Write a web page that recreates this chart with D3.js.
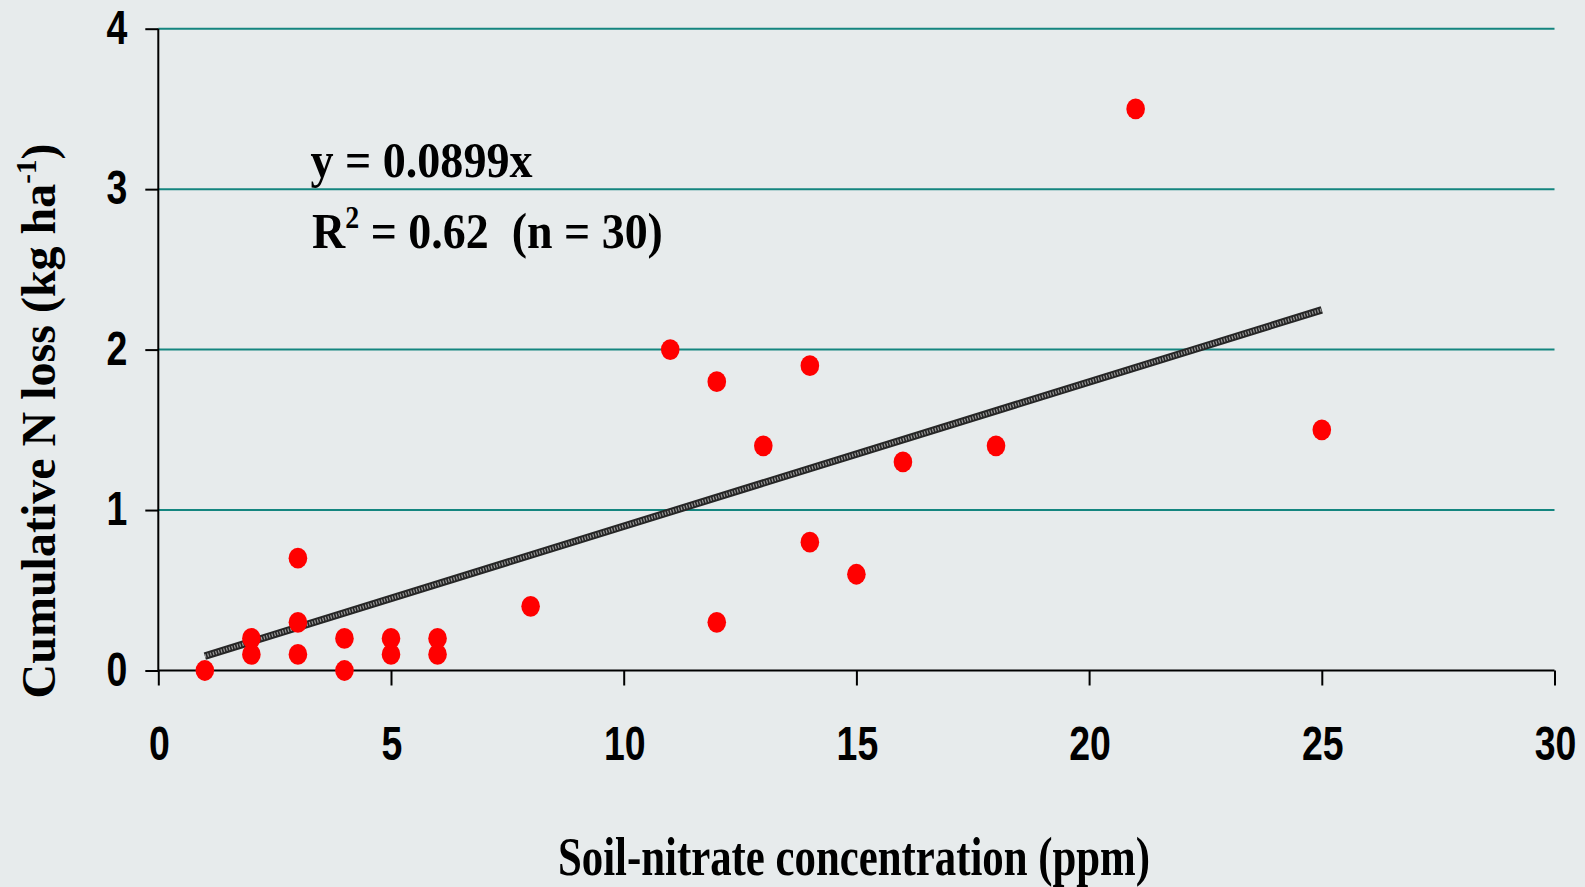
<!DOCTYPE html>
<html>
<head>
<meta charset="utf-8">
<script src="https://cdn.jsdelivr.net/npm/d3@7"></script>
<style>
  html, body { margin: 0; padding: 0; background: #e7ebec; }
  svg { display: block; }
</style>
</head>
<body>
<svg id="chart" width="1585" height="887"></svg>
<script>
// ---- data ----
const soilNitrate = [1, 2, 2, 3, 3, 3, 4, 4, 5, 5, 6, 6, 8, 11, 12, 12, 13, 14, 14, 15, 16, 18, 21, 25];
const nLoss       = [0, 0.2, 0.1, 0.7, 0.3, 0.1, 0.2, 0, 0.2, 0.1, 0.2, 0.1, 0.4, 2.0, 1.8, 0.3, 1.4, 1.9, 0.8, 0.6, 1.3, 1.4, 3.5, 1.5];
const xTicks = [0, 5, 10, 15, 20, 25, 30];
const yTicks = [0, 1, 2, 3, 4];
const slope = 0.0899;
const trendRange = [1, 25];
const equationText = "y = 0.0899x";
const xTitle = "Soil-nitrate concentration (ppm)";

// ---- layout ----
const W = 1585, H = 887;
const mLeft = 158.3, mRight = 1554.5, mTop = 28.7, mBottom = 670.5;

const svg = d3.select("#chart");
svg.append("rect").attr("width", W).attr("height", H).attr("fill", "#e7ebec");

const x = d3.scaleLinear().domain([0, 30]).range([mLeft, mRight]);
const y = d3.scaleLinear().domain([0, 4]).range([mBottom, mTop]);

const tickFont = "'Liberation Sans', Arial, sans-serif";
const serif = "'Liberation Serif', 'Times New Roman', serif";

// gridlines
svg.append("g")
  .selectAll("line")
  .data(yTicks.filter(d => d > 0))
  .join("line")
  .attr("x1", mLeft).attr("x2", mRight)
  .attr("y1", d => y(d)).attr("y2", d => y(d))
  .attr("stroke", "#14857f").attr("stroke-width", 2);

// y axis
const yAxis = d3.axisLeft(y).tickValues(yTicks).tickSize(13).tickFormat("");
const gy = svg.append("g").attr("transform", `translate(${mLeft},0)`).call(yAxis);
gy.select(".domain").attr("stroke", "#000").attr("stroke-width", 2).attr("d", `M0,${y(4)}V${y(0)}`);
gy.selectAll(".tick line").attr("stroke", "#000").attr("stroke-width", 2);

// x axis
const xAxis = d3.axisBottom(x).tickValues(xTicks).tickSize(15).tickFormat("");
const gx = svg.append("g").attr("transform", `translate(0,${mBottom})`).call(xAxis);
gx.select(".domain").attr("stroke", "#000").attr("stroke-width", 2).attr("d", `M${x(0)},0H${x(30)}`);
gx.selectAll(".tick line").attr("stroke", "#000").attr("stroke-width", 2);

// tick labels (condensed bold sans)
const sx = 0.78;
svg.append("g").selectAll("text")
  .data(yTicks).join("text")
  .attr("transform", d => `translate(${mLeft - 31},${y(d) + 15}) scale(${sx},1)`)
  .attr("text-anchor", "end")
  .attr("font-family", tickFont).attr("font-weight", "bold").attr("font-size", 48)
  .attr("fill", "#000")
  .text(d => d);

svg.append("g").selectAll("text")
  .data(xTicks).join("text")
  .attr("transform", d => `translate(${x(d) + 1},${mBottom + 89}) scale(${sx},1)`)
  .attr("text-anchor", "middle")
  .attr("font-family", tickFont).attr("font-weight", "bold").attr("font-size", 48)
  .attr("fill", "#000")
  .text(d => d);

// trend line
const line = d3.line().x(d => x(d)).y(d => y(slope * d));
svg.append("path").attr("d", line(trendRange))
  .attr("stroke", "#262626").attr("stroke-width", 7.5).attr("fill", "none");
svg.append("path").attr("d", line(trendRange))
  .attr("stroke", "#9a9a9a").attr("stroke-width", 3.5).attr("fill", "none")
  .attr("stroke-dasharray", "1.2 1.6");

// points
svg.append("g").selectAll("ellipse")
  .data(soilNitrate.map((v, i) => [v, nLoss[i]]))
  .join("ellipse")
  .attr("cx", d => x(d[0])).attr("cy", d => y(d[1]))
  .attr("rx", 9.3).attr("ry", 10.4)
  .attr("fill", "#ff0000");

// helper to fit text horizontally
function fitText(sel, targetLeft, targetWidth, baseline) {
  const w = sel.node().getBBox().width;
  const k = targetWidth / w;
  sel.attr("transform", `translate(${targetLeft},${baseline}) scale(${k},1)`);
}

// equation
const eq1 = svg.append("text")
  .attr("font-family", serif).attr("font-weight", "bold").attr("font-size", 51)
  .attr("fill", "#000").text(equationText);
fitText(eq1, 310.5, 222.5, 177);

const eq2 = svg.append("text")
  .attr("font-family", serif).attr("font-weight", "bold").attr("font-size", 51)
  .attr("fill", "#000");
eq2.append("tspan").text("R");
eq2.append("tspan").attr("font-size", 31).attr("dy", -20).text("2");
eq2.append("tspan").attr("dy", 20).text(" = 0.62\u00a0\u00a0(n = 30)");
fitText(eq2, 312, 351, 248);

// x title
const xt = svg.append("text")
  .attr("font-family", serif).attr("font-weight", "bold").attr("font-size", 54)
  .attr("fill", "#000").text(xTitle);
fitText(xt, 558, 592, 875);

// y title
const yt = svg.append("text")
  .attr("transform", `translate(55,421) rotate(-90)`)
  .attr("text-anchor", "middle")
  .attr("font-family", serif).attr("font-weight", "bold").attr("font-size", 48)
  .attr("fill", "#000");
yt.append("tspan").text("Cumulative N loss (kg ha");
yt.append("tspan").attr("font-size", 29).attr("dy", -19).text("-1");
yt.append("tspan").attr("dy", 19).text(")");
</script>
</body>
</html>
